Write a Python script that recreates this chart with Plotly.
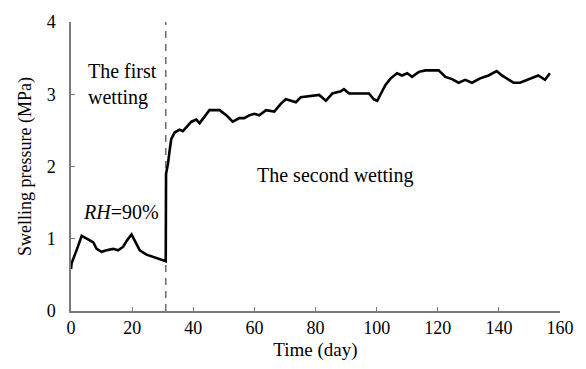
import plotly.graph_objects as go

days = [0.0, 0.2, 1.9, 3.5, 5.6, 7.3, 8.4, 10.0, 11.6, 13.8, 15.4, 17.1, 18.2, 19.8, 20.9,
        22.5, 24.7, 26.8, 29.0, 31.0, 31.1, 31.7, 32.3, 32.8, 33.9, 35.5, 36.6, 37.7, 39.4,
        41.0, 42.1, 43.7, 45.3, 48.6, 50.8, 52.9, 55.1, 56.7, 58.4, 60.0, 61.6, 63.8, 66.5,
        68.7, 70.3, 72.0, 73.6, 75.2, 79.0, 81.2, 83.4, 85.5, 88.3, 89.3, 91.0, 97.5, 99.1,
        100.2, 101.3, 102.9, 104.6, 106.7, 108.3, 110.0, 111.6, 113.8, 116.0, 120.3, 122.5,
        124.7, 126.8, 129.0, 131.2, 133.9, 136.6, 139.3, 141.0, 143.1, 144.8, 146.9, 149.7,
        152.9, 155.1, 156.7]
pressure = [0.58, 0.66, 0.85, 1.04, 0.99, 0.95, 0.86, 0.82, 0.84, 0.86, 0.84, 0.89, 0.97, 1.06,
            0.97, 0.84, 0.78, 0.75, 0.71, 0.69, 1.90, 2.03, 2.23, 2.38, 2.47, 2.51, 2.49, 2.54,
            2.62, 2.65, 2.60, 2.69, 2.78, 2.78, 2.71, 2.62, 2.67, 2.67, 2.71, 2.73, 2.71, 2.78,
            2.76, 2.87, 2.93, 2.91, 2.89, 2.96, 2.98, 2.99, 2.91, 3.01, 3.04, 3.07, 3.01, 3.01,
            2.93, 2.91, 3.00, 3.13, 3.22, 3.29, 3.26, 3.29, 3.24, 3.31, 3.33, 3.33, 3.24, 3.21,
            3.16, 3.20, 3.16, 3.22, 3.26, 3.32, 3.26, 3.20, 3.16, 3.16, 3.21, 3.26, 3.20, 3.29]

x_ticks = [0, 20, 40, 60, 80, 100, 120, 140, 160]
y_ticks = [0, 1, 2, 3, 4]
wetting_change_day = 31

FONT = "Times New Roman, Liberation Serif, DejaVu Serif, serif"

fig = go.Figure()
fig.add_trace(go.Scatter(x=[wetting_change_day, wetting_change_day], y=[0, 4], mode="lines",
                         line=dict(color="#707070", width=1.6, dash="7px,6px"),
                         showlegend=False, hoverinfo="skip"))
fig.add_trace(go.Scatter(x=days, y=pressure, mode="lines",
                         line=dict(color="black", width=2.6),
                         showlegend=False))

axis_common = dict(showline=True, linecolor="#7a7a7a", linewidth=1.5, ticks="inside",
                   ticklen=4, tickcolor="#7a7a7a", tickwidth=1.3, showgrid=False,
                   zeroline=False, tickfont=dict(family=FONT, size=18, color="black"),
                   mirror=False)

fig.update_layout(
    width=586, height=369,
    margin=dict(l=71, r=24, t=12, b=57),
    plot_bgcolor="white", paper_bgcolor="white",
    xaxis=dict(range=[0, 160], tickvals=x_ticks, ticktext=[str(v) for v in x_ticks],
               title=dict(text="Time (day)", font=dict(family=FONT, size=19, color="black"),
                          standoff=5),
               **axis_common),
    yaxis=dict(range=[0, 4], tickvals=y_ticks, ticktext=[str(v) for v in y_ticks],
               title=dict(text="Swelling pressure (MPa)",
                          font=dict(family=FONT, size=18, color="black"), standoff=10),
               ticklabelstandoff=10,
               **axis_common),
    annotations=[
        dict(x=4.9, y=3.14, xref="x", yref="y", text="The first<br>wetting", showarrow=False,
             xanchor="left", yanchor="middle", align="left",
             font=dict(family=FONT, size=20, color="black")),
        dict(x=86.4, y=1.88, xref="x", yref="y", text="The second wetting", showarrow=False,
             xanchor="center", yanchor="middle",
             font=dict(family=FONT, size=20, color="black")),
        dict(x=16.3, y=1.37, xref="x", yref="y", text="<i>RH</i>=90%", showarrow=False,
             xanchor="center", yanchor="middle",
             font=dict(family=FONT, size=20, color="black")),
    ],
)

fig.write_html("out.html")
